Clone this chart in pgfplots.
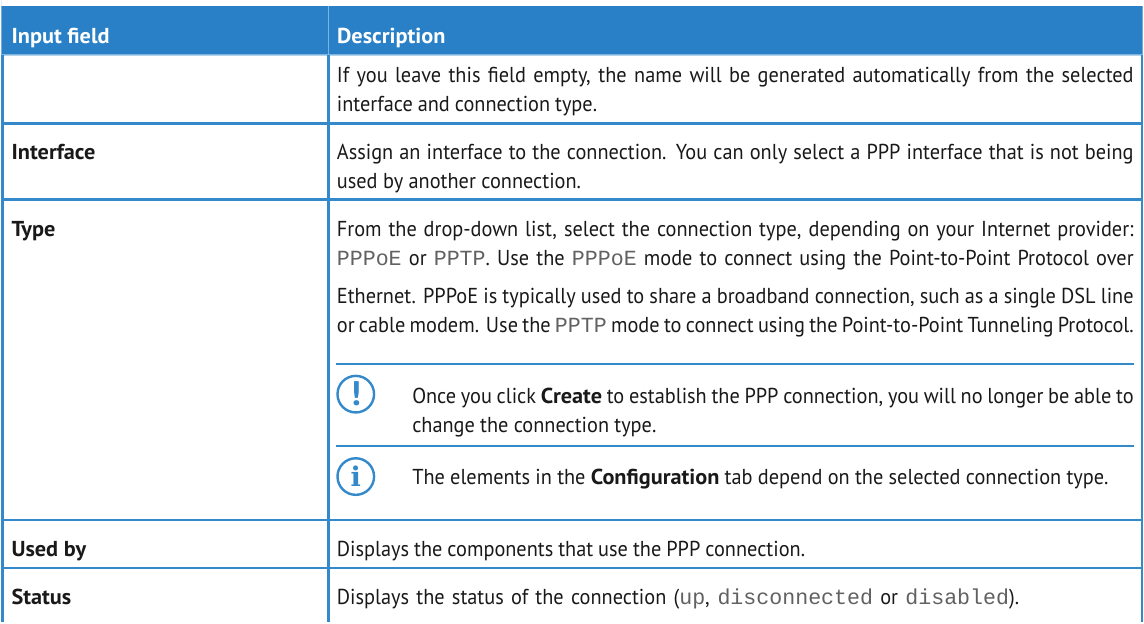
\documentclass[border=0pt]{standalone}
\usepackage{fontspec}
\usepackage{pgfplots}
\pgfplotsset{compat=1.18}
\setmainfont{PT Sans}[FakeStretch=0.94,BoldFont={PT Sans Bold},BoldFeatures={FakeStretch=1.03}]
\newfontfamily\cour{Liberation Mono}
\newfontfamily\iserif{DejaVu Serif}[BoldFont={DejaVu Serif Bold}]
\definecolor{hdr}{RGB}{41,128,198}
\definecolor{rul}{RGB}{52,137,203}
\definecolor{lite}{RGB}{125,180,222}
\definecolor{ink}{RGB}{25,25,25}
\newcommand{\fs}{\fontsize{21.5}{25}\selectfont}
\newcommand{\tl}[1]{{\cour\color{black!62}#1}}
\newcommand{\li}[4]{\node[anchor=base west,inner sep=0pt,outer sep=0pt,text=ink] at (axis cs:#1,#2) {\fs\makebox[#3pt][s]{#4}};}
\newcommand{\bl}[3]{\node[anchor=base west,inner sep=0pt,text=#3] at (axis cs:15,#1) {\fs\bfseries #2};}
\begin{document}
\begin{tikzpicture}
\begin{axis}[width=1144pt,height=619pt,scale only axis,xmin=0,xmax=1144,ymin=0,ymax=619,y dir=reverse,hide axis,clip=false]
\addplot[fill=hdr,draw=none] coordinates {(5,6) (1141,6) (1141,55) (5,55)} \closedcycle;
% header separators
\addplot[lite,line width=1pt] coordinates {(330.5,6) (330.5,55)};
\addplot[lite,line width=1.2pt] coordinates {(5,54.5) (1141,54.5)};
% horizontal rows
\addplot[rul,line width=2.6pt] coordinates {(5,122.7) (1141,122.7)};
\addplot[rul,line width=2.6pt] coordinates {(5,198.7) (1141,198.7)};
\addplot[rul,line width=2.6pt] coordinates {(5,517.5) (1141,517.5)};
\addplot[rul,line width=2.6pt] coordinates {(5,565.5) (1141,565.5)};
% verticals
\addplot[rul,line width=2.6pt] coordinates {(6.3,55) (6.3,619)};
\addplot[rul,line width=2.6pt] coordinates {(330.7,55) (330.7,619)};
\addplot[rul,line width=2.2pt] coordinates {(1140.3,55) (1140.3,619)};
% note rules
\addplot[rul,line width=1.8pt] coordinates {(338,362) (1132.7,362)};
\addplot[rul,line width=1.8pt] coordinates {(338,444) (1132.7,444)};
% icons
\draw[rul,line width=2.4pt] (axis cs:357.8,392.3) circle[radius=18.2pt];
\draw[rul,line width=2.4pt] (axis cs:357.8,474.3) circle[radius=18.2pt];
\node[text=rul,inner sep=0pt] at (axis cs:357.8,391.5) {\fontsize{34}{34}\selectfont\bfseries !};
\node[text=rul,inner sep=0pt] at (axis cs:357.8,474.3) {\fontsize{27}{27}\selectfont\iserif\bfseries i};
% header text
\bl{43.2}{Input field}{white}
\node[anchor=base west,inner sep=0pt,text=white] at (axis cs:339,43.2) {\fs\bfseries Description};
% left column
\bl{159}{Interface}{ink}
\bl{235.5}{Type}{ink}
\bl{553.5}{Used by}{ink}
\bl{601.2}{Status}{ink}
% description column
\li{339}{82.2}{793}{If you leave this field empty, the name will be generated automatically from the selected}
\li{339}{111.2}{259}{interface and connection type.}
\li{339}{159}{793}{Assign an interface to the connection. You can only select a PPP interface that is not being}
\li{339}{187.5}{243}{used by another connection.}
\li{339}{235.5}{793}{From the drop-down list, select the connection type, depending on your Internet provider:}
\li{339}{264.5}{793}{\tl{PPPoE} or \tl{PPTP}. Use the \tl{PPPoE} mode to connect using the Point-to-Point Protocol over}
\li{339}{302.2}{793}{Ethernet. PPPoE is typically used to share a broadband connection, such as a single DSL line}
\li{339}{331.2}{793}{or cable modem. Use the \tl{PPTP} mode to connect using the Point-to-Point Tunneling Protocol.}
\li{414}{401.5}{718}{Once you click \textbf{Create} to establish the PPP connection, you will no longer be able to}
\li{414}{430.5}{243}{change the connection type.}
\li{414}{482.5}{693}{The elements in the \textbf{Configuration} tab depend on the selected connection type.}
\li{339}{553.5}{466}{Displays the components that use the PPP connection.}
\li{339}{601.2}{679}{Displays the status of the connection (\tl{up}, \tl{disconnected} or \tl{disabled}).}
\end{axis}
\end{tikzpicture}
\end{document}
